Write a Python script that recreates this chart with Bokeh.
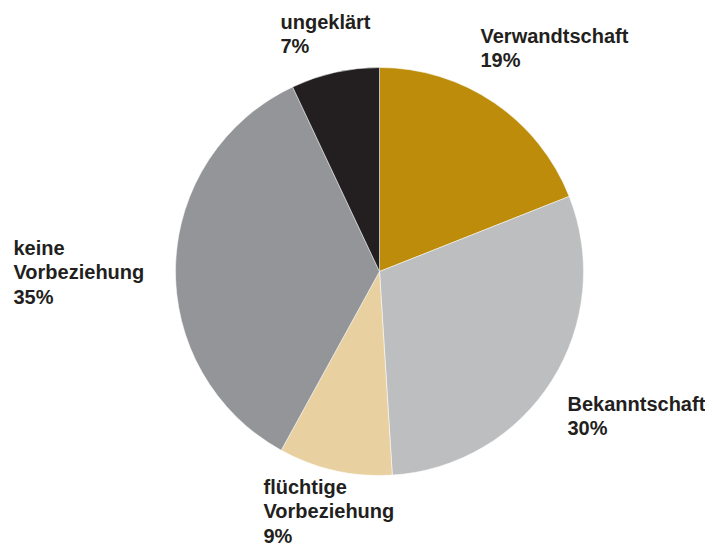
import numpy as np
from bokeh.plotting import figure
from bokeh.models import Range1d, ColumnDataSource
from bokeh.core.properties import value
from bokeh.embed import file_html
from bokeh.resources import INLINE

categories = ["Verwandtschaft", "Bekanntschaft", "flüchtige Vorbeziehung", "keine Vorbeziehung", "ungeklärt"]
values = [19, 30, 9, 35, 7]
colors = ["#BC8C0A", "#BDBEC0", "#E8D0A0", "#939598", "#231F20"]
label_lines = [["Verwandtschaft", "19%"], ["Bekanntschaft", "30%"],
               ["flüchtige", "Vorbeziehung", "9%"], ["keine", "Vorbeziehung", "35%"],
               ["ungeklärt", "7%"]]

W, H = 705, 547
cx, cy, R = 379, H - 271, 204
label_pos = [(480, 35), (567, 403), (263, 486), (13, 247), (280, 21)]
line_gap = 24.5

p = figure(width=W, height=H, output_backend="svg", toolbar_location=None,
           x_range=Range1d(0, W), y_range=Range1d(0, H), min_border=0)
p.axis.visible = False
p.grid.visible = False
p.outline_line_color = None
p.background_fill_color = "white"

vals = np.array(values, dtype=float)
frac = vals / vals.sum()
cum = np.concatenate([[0], np.cumsum(frac)])
start = np.pi / 2 - cum[:-1] * 2 * np.pi
end = np.pi / 2 - cum[1:] * 2 * np.pi
src = ColumnDataSource(dict(start=end, end=start, color=colors, cat=categories))
p.wedge(x=cx, y=cy, radius=R, start_angle="start", end_angle="end",
        fill_color="color", line_color="white", line_width=0.5, source=src)

xs, ys, ts = [], [], []
for (lx, ly), lines in zip(label_pos, label_lines):
    for i, t in enumerate(lines):
        xs.append(lx)
        ys.append(H - (ly + i * line_gap))
        ts.append(t)
p.text(x=xs, y=ys, text=ts, text_font=value("Liberation Sans"), text_font_style="bold",
       text_font_size="20px", text_color="#231F20", text_baseline="alphabetic", text_align="left")

open("out.html", "w").write(file_html(p, INLINE))
